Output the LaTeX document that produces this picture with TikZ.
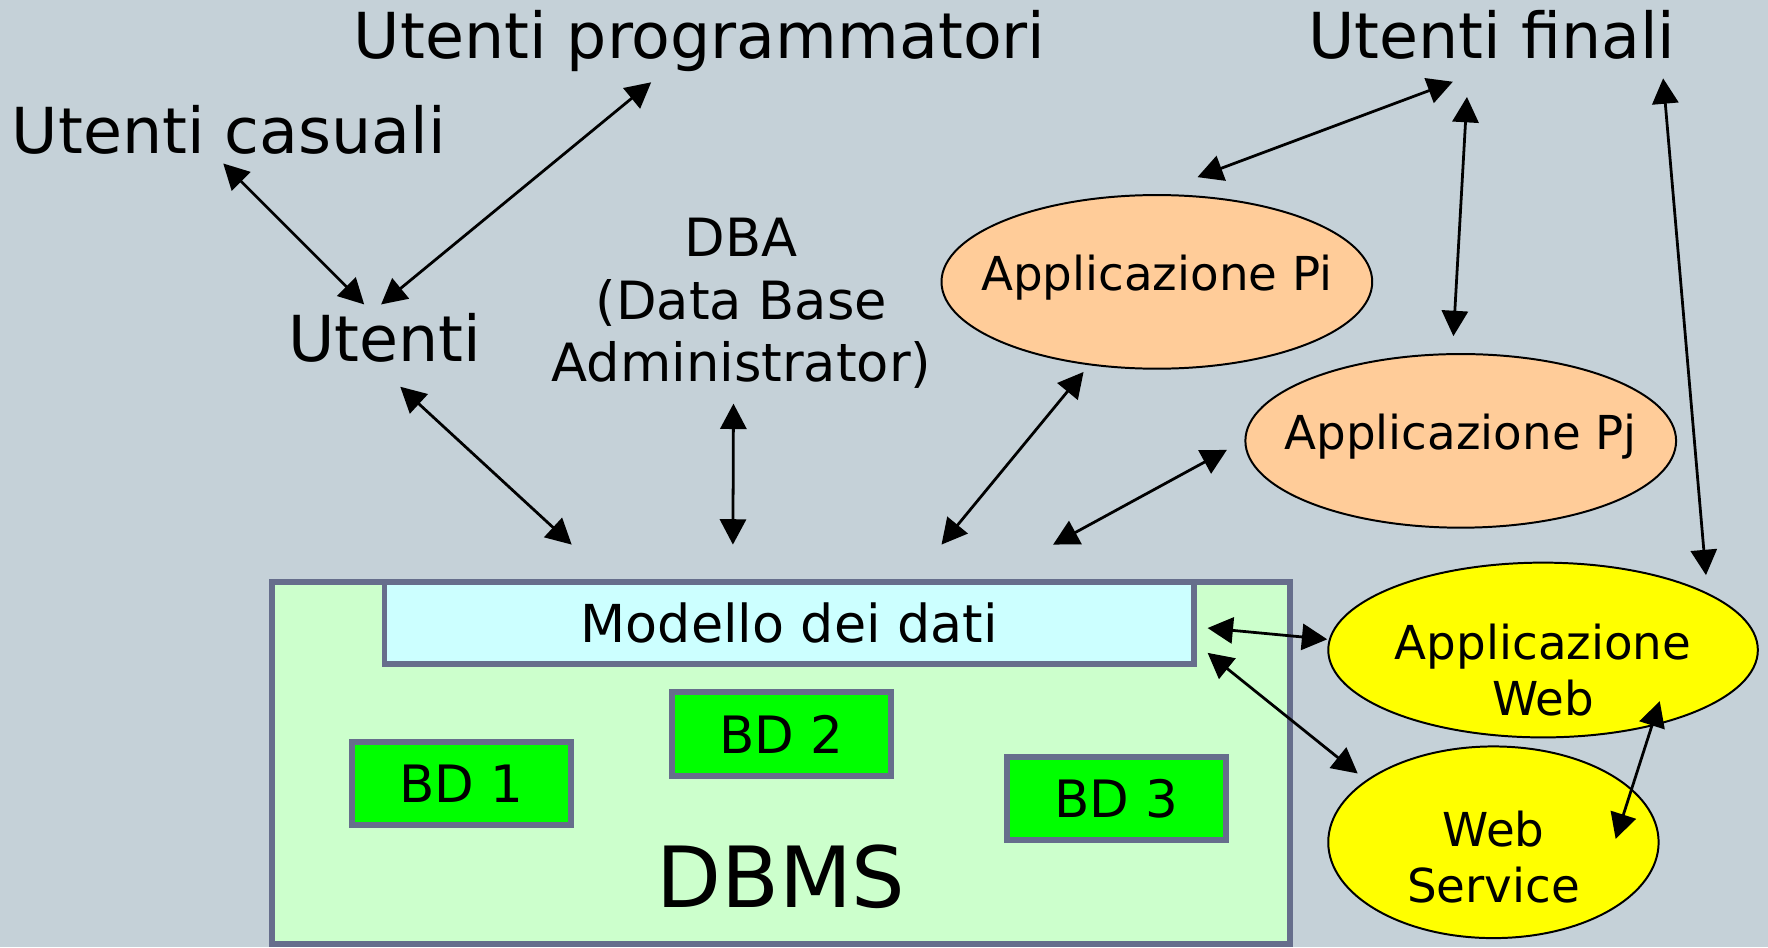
\documentclass[tikz,border=0pt]{standalone}
\usepackage{fontspec}
\setmainfont{DejaVu Sans}
\usetikzlibrary{arrows.meta,shapes.geometric}
\definecolor{bgc}{RGB}{197,209,216}
\definecolor{edgec}{RGB}{102,110,140}
\definecolor{dbmsc}{RGB}{204,255,204}
\definecolor{modc}{RGB}{204,255,255}
\definecolor{bdc}{RGB}{0,255,0}
\definecolor{applc}{RGB}{255,204,153}
\definecolor{webc}{RGB}{255,255,0}

\begin{document}
\begin{tikzpicture}[x=0.1mm,y=-0.1mm,
  txt/.style={inner sep=0pt,anchor=base,font=\fontsize{16}{19}\selectfont},
  box/.style={rectangle,draw=edgec,line width=1.5pt,inner sep=0pt,outer sep=0pt},
  bd/.style={box,fill=bdc,minimum width=19.4mm,minimum height=7.4mm,font=\fontsize{13}{16}\selectfont},
  appl/.style={ellipse,draw,line width=0.5pt,inner sep=0pt},
  lbl/.style={inner sep=0pt,font=\fontsize{11.8}{14}\selectfont},
  lbltwo/.style={inner sep=0pt,align=center,font=\fontsize{11.8}{14}\selectfont},
  dbl/.style={{Triangle[length=6.4pt,width=6.6pt]}-{Triangle[length=6.4pt,width=6.6pt]},line width=0.7pt}]
\useasboundingbox (0,0) rectangle (1568,840);
\fill[bgc] (0,0) rectangle (1568,840);

\node[box,fill=dbmsc,minimum width=90.3mm,minimum height=32.1mm] (dbms) at (692.5,676.5) {};
\node[box,fill=modc,minimum width=71.8mm,minimum height=7.3mm,font=\fontsize{13.2}{16}\selectfont] (modello) at (700,552.5) {Modello dei dati};
\node[bd] (bd1) at (409,695) {BD 1};
\node[bd] (bd2) at (693,651) {BD 2};
\node[bd] (bd3) at (990,708) {BD 3};
\node[txt,font=\fontsize{21.3}{25}\selectfont] (dbmslbl) at (692.5,805) {DBMS};

\node[txt] (prog) at (620.5,52) {Utenti programmatori};
\node[txt] (finali) at (1323,52) {Utenti finali};
\node[txt] (casuali) at (203,136) {Utenti casuali};
\node[txt] (utenti) at (341,321) {Utenti};
\node[inner sep=0pt,align=center,font=\fontsize{13.3}{15.7}\selectfont] (dba) at (657.5,269) {DBA\\(Data Base\\Administrator)};

\node[appl,fill=applc,minimum width=38.2mm,minimum height=15.4mm,
  label={[lbl,yshift=0.35mm]center:Applicazione Pi}] (pi) at (1026,250) {};
\node[appl,fill=applc,minimum width=38.2mm,minimum height=15.4mm,
  label={[lbl,yshift=0.35mm]center:Applicazione Pj}] (pj) at (1295.5,391) {};
\node[appl,fill=webc,minimum width=38.1mm,minimum height=15.5mm,
  label={[lbltwo,yshift=-1.77mm]center:Applicazione\\Web}] (appweb) at (1368.5,576.5) {};
\node[appl,fill=webc,minimum width=29.3mm,minimum height=17mm,
  label={[lbltwo,yshift=-1.3mm]center:Web\\Service}] (ws) at (1324.5,747) {};

\draw[dbl] ([shift={(-5,9)}]casuali.base) -- ([shift={(-18,-51)}]utenti.base);
\draw[dbl] ([shift={(-43,21)}]prog.base) -- ([shift={(-3,-51)}]utenti.base);
\draw[dbl] ([shift={(14,22)}]utenti.base) -- ([shift={(-193,-33)}]modello.north);
\draw[dbl] ([shift={(-7,13)}]dba.south) -- ([shift={(-50,-33)}]modello.north);
\draw[dbl] ([shift={(-65,2)}]pi.south) -- ([shift={(135,-33)}]modello.north);
\draw[dbl] ([shift={(-15.5,8)}]pj.west) -- ([shift={(234,-33)}]modello.north);
\draw[dbl] ([shift={(-34.5,20.5)}]finali.base) -- ([shift={(36,-15)}]pi.north);
\draw[dbl] ([shift={(-22,34)}]finali.base) -- ([shift={(-6.5,-15)}]pj.north);
\draw[dbl] ([shift={(152,17.5)}]finali.base) -- ([shift={(144.5,12)}]appweb.north);
\draw[dbl] ([shift={(12,4.5)}]modello.east) -- ([shift={(0,-9.5)}]appweb.west);
\draw[dbl] ([shift={(12,26.5)}]modello.east) -- ([shift={(27,-61)}]ws.west);
\draw[dbl] ([shift={(103.5,-33)}]appweb.south) -- ([shift={(-39,-3)}]ws.east);
\end{tikzpicture}
\end{document}
